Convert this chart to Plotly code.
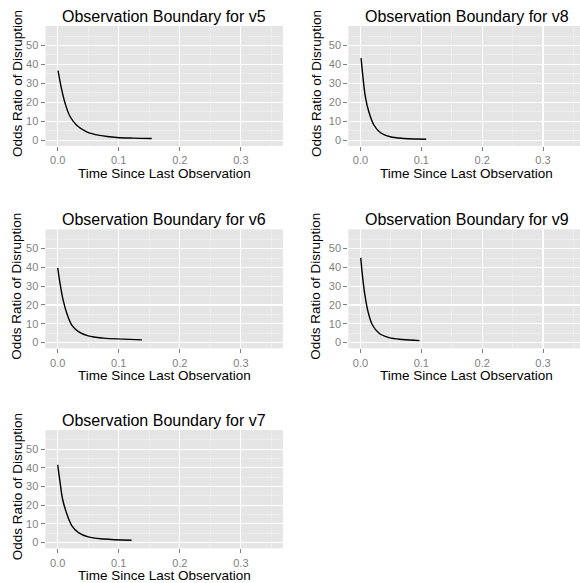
import plotly.graph_objects as go

W, H = 580, 583

panel_names = ["v5", "v8", "v6", "v9", "v7"]

# curve readings (x = time since last observation, y = odds ratio)
v5_x = [0.0005, 0.006, 0.012, 0.020, 0.031, 0.0475, 0.069, 0.097, 0.124, 0.154]
v5_y = [36.7, 27.5, 19.6, 12.6, 7.9, 4.4, 2.5, 1.4, 1.06, 0.9]

v8_x = [0.001, 0.004, 0.008, 0.0137, 0.022, 0.033, 0.049, 0.071, 0.090, 0.108]
v8_y = [43.3, 33.6, 23.0, 15.0, 8.0, 3.9, 1.8, 0.9, 0.6, 0.5]

v6_x = [0.0, 0.004, 0.009, 0.015, 0.023, 0.034, 0.050, 0.075, 0.108, 0.138]
v6_y = [39.8, 31.1, 22.4, 15.4, 9.3, 5.8, 3.5, 2.3, 1.8, 1.4]

v9_x = [0.0005, 0.003, 0.007, 0.0126, 0.0197, 0.0306, 0.047, 0.069, 0.097]
v9_y = [45.1, 36.4, 25.9, 16.2, 9.3, 4.9, 2.6, 1.6, 1.0]

v7_x = [0.0, 0.004, 0.008, 0.015, 0.023, 0.034, 0.050, 0.075, 0.121]
v7_y = [41.6, 31.9, 23.2, 15.3, 9.1, 5.3, 3.0, 1.9, 1.2]

series = {"v5": (v5_x, v5_y), "v8": (v8_x, v8_y), "v6": (v6_x, v6_y),
          "v9": (v9_x, v9_y), "v7": (v7_x, v7_y)}

x_ticks = [0.0, 0.1, 0.2, 0.3]
x_tick_labels = ["0.0", "0.1", "0.2", "0.3"]
y_ticks = [0, 10, 20, 30, 40, 50]
y_tick_labels = ["0", "10", "20", "30", "40", "50"]

title_prefix = "Observation Boundary for "
x_title = "Time Since Last Observation"
y_title = "Odds Ratio of Disruption"

# layout geometry in pixels
col_px = [(45.5, 283.0), (348.3, 585.0)]
row_px = [(26.0, 146.0), (229.3, 348.3), (430.0, 548.3)]
positions = {"v5": (0, 0), "v8": (0, 1), "v6": (1, 0), "v9": (1, 1), "v7": (2, 0)}

xrange_full = [-0.02, 0.369]
yrange = [-3.1, 60.3]

FONT = "Liberation Sans, Arial, Helvetica, sans-serif"
GREY = "#7F7F7F"

fig = go.Figure()
layout = dict(width=W, height=H, margin=dict(l=0, r=0, t=0, b=0),
              paper_bgcolor="white", plot_bgcolor="#E5E5E5",
              showlegend=False, font=dict(family=FONT))
annotations = []

for i, name in enumerate(panel_names):
    r, c = positions[name]
    x0, x1 = col_px[c]
    y0, y1 = row_px[r]
    xs, ys = series[name]
    ax = "" if i == 0 else str(i + 1)
    fig.add_trace(go.Scatter(x=xs, y=ys, mode="lines",
                             line=dict(color="black", width=1.4, shape="spline", smoothing=1.0),
                             xaxis="x" + ax, yaxis="y" + ax, hoverinfo="skip"))
    span = xrange_full[1] - xrange_full[0]
    x1c = min(x1, W)
    xr = [xrange_full[0], xrange_full[0] + span * (x1c - x0) / (x1 - x0)]
    dom_x = [x0 / W, x1c / W]
    dom_y = [1 - y1 / H, 1 - y0 / H]
    layout["xaxis" + ax] = dict(
        domain=dom_x, range=xr, anchor="y" + ax, tickvals=x_ticks, ticktext=x_tick_labels,
        ticks="outside", ticklen=4, tickwidth=1, tickcolor=GREY,
        tickfont=dict(size=11, color=GREY, family=FONT),
        showgrid=True, gridcolor="white", gridwidth=1.2, zeroline=False, showline=False,
        minor=dict(tickvals=[0.05, 0.15, 0.25, 0.35], showgrid=True, gridcolor="#F2F2F2",
                   gridwidth=0.6, ticks=""),
        fixedrange=True)
    layout["yaxis" + ax] = dict(
        domain=dom_y, range=yrange, anchor="x" + ax, tickvals=y_ticks, ticktext=y_tick_labels,
        ticks="outside", ticklen=4, tickwidth=1, tickcolor=GREY,
        tickfont=dict(size=11, color=GREY, family=FONT),
        showgrid=True, gridcolor="white", gridwidth=1.2, zeroline=False, showline=False,
        minor=dict(tickvals=[5, 15, 25, 35, 45, 55], showgrid=True, gridcolor="#F2F2F2",
                   gridwidth=0.6, ticks=""),
        fixedrange=True)
    cx = (x0 + x1) / 2
    annotations.append(dict(text=title_prefix + name, x=cx / W, y=1 - (y0 + 1) / H,
                            xref="paper", yref="paper",
                            xanchor="center", yanchor="bottom", showarrow=False,
                            font=dict(size=16, color="black", family=FONT)))
    annotations.append(dict(text=x_title, x=cx / W, y=1 - (y1 + 18) / H,
                            xref="paper", yref="paper",
                            xanchor="center", yanchor="top", showarrow=False,
                            font=dict(size=13.5, color="black", family=FONT)))
    ytx = 17 if c == 0 else 316
    annotations.append(dict(text=y_title, x=ytx / W, y=1 - ((y0 + y1) / 2 - 2) / H,
                            xref="paper", yref="paper",
                            xanchor="center", yanchor="middle", showarrow=False, textangle=-90,
                            font=dict(size=13.5, color="black", family=FONT)))

layout["annotations"] = annotations
fig.update_layout(**layout)
fig.write_html("out.html", config={"displayModeBar": False, "staticPlot": True},
               post_script="document.body.style.margin='0px';document.body.style.overflow='hidden';")
